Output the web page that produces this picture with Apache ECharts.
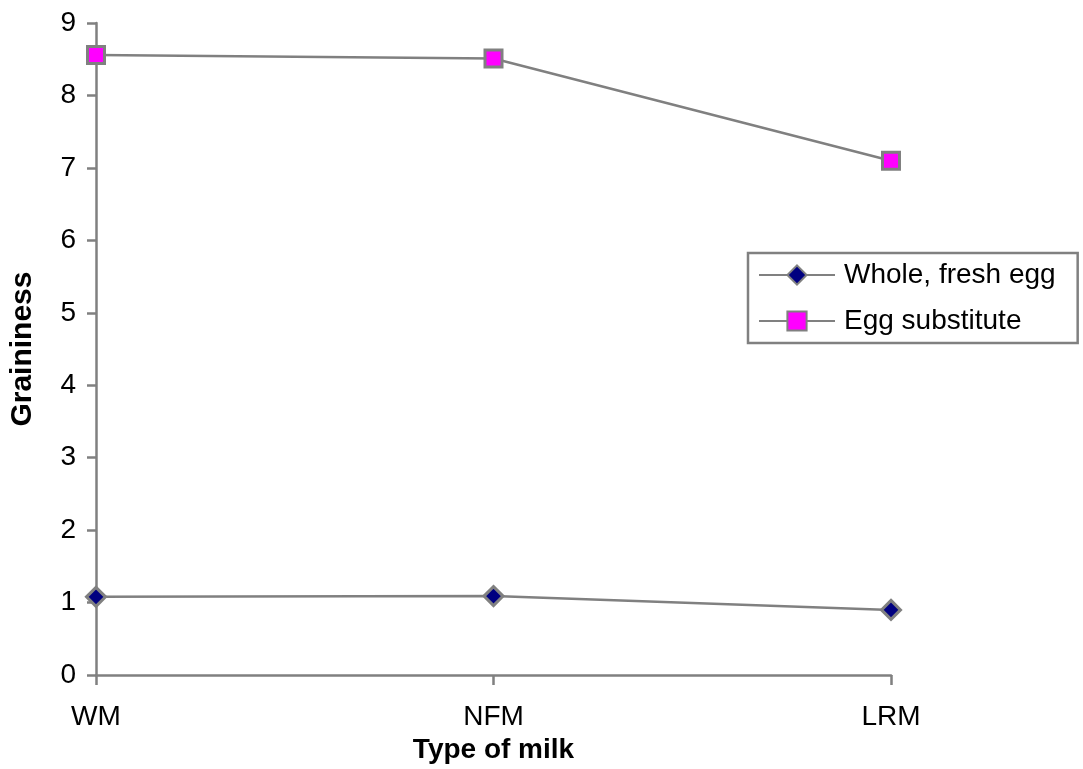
<!DOCTYPE html>
<html>
<head>
<meta charset="utf-8">
<script src="https://cdn.jsdelivr.net/npm/echarts@6/dist/echarts.min.js"></script>
<style>
  html, body { margin: 0; padding: 0; background: #ffffff; }
  #chart { width: 1083px; height: 769px; }
</style>
</head>
<body>
<div id="chart"></div>
<script>
const categories = ['WM', 'NFM', 'LRM'];
const wholeFreshEgg = [1.08, 1.09, 0.9];
const eggSubstitute = [8.56, 8.51, 7.1];
const yTicks = [0, 1, 2, 3, 4, 5, 6, 7, 8, 9];

const FONT = 'Liberation Sans, Arial, sans-serif';
const GRAY = '#808080';

const chart = echarts.init(document.getElementById('chart'), null, { renderer: 'canvas' });
chart.setOption({
  animation: false,
  backgroundColor: '#ffffff',
  grid: { left: 95, right: 192, top: 23, bottom: 92, containLabel: false },
  legend: {
    orient: 'vertical',
    left: 748,
    top: 253,
    padding: [8, 22, 8, 10],
    itemGap: 18,
    itemWidth: 76,
    itemHeight: 24,
    borderColor: GRAY,
    borderWidth: 2.5,
    textStyle: { fontFamily: FONT, fontSize: 28, color: '#000000', padding: [0, 0, 0, 4] },
    data: ['Whole, fresh egg', 'Egg substitute']
  },
  xAxis: {
    type: 'category',
    data: categories,
    boundaryGap: false,
    name: 'Type of milk',
    nameLocation: 'middle',
    nameGap: 55,
    nameTextStyle: { fontFamily: FONT, fontSize: 28, fontWeight: 'bold', color: '#000000' },
    axisLine: { lineStyle: { color: GRAY, width: 2.5 } },
    axisTick: { show: true, length: 10, lineStyle: { color: GRAY, width: 2.5 }, alignWithLabel: true },
    axisLabel: { fontFamily: FONT, fontSize: 28, color: '#000000', margin: 28 },
    splitLine: { show: false }
  },
  yAxis: {
    type: 'value',
    min: 0,
    max: 9,
    interval: 1,
    name: 'Graininess',
    nameLocation: 'middle',
    nameGap: 58,
    nameTextStyle: { fontFamily: FONT, fontSize: 30, fontWeight: 'bold', color: '#000000' },
    axisLine: { show: true, lineStyle: { color: GRAY, width: 2.5 } },
    axisTick: { show: true, length: 9, lineStyle: { color: GRAY, width: 2.5 } },
    axisLabel: {
      fontFamily: FONT, fontSize: 28, color: '#000000', margin: 20,
      formatter: function (v) { return yTicks.indexOf(v) >= 0 ? String(v) : ''; }
    },
    splitLine: { show: false }
  },
  series: [
    {
      name: 'Whole, fresh egg',
      type: 'line',
      data: wholeFreshEgg,
      symbol: 'diamond',
      symbolSize: 19,
      lineStyle: { color: GRAY, width: 2.5 },
      itemStyle: { color: '#000080', borderColor: GRAY, borderWidth: 3 },
      z: 3
    },
    {
      name: 'Egg substitute',
      type: 'line',
      data: eggSubstitute,
      symbol: 'rect',
      symbolSize: 17,
      lineStyle: { color: GRAY, width: 2.5 },
      itemStyle: { color: '#FF00FF', borderColor: GRAY, borderWidth: 3 },
      z: 3
    }
  ]
});
</script>
</body>
</html>
